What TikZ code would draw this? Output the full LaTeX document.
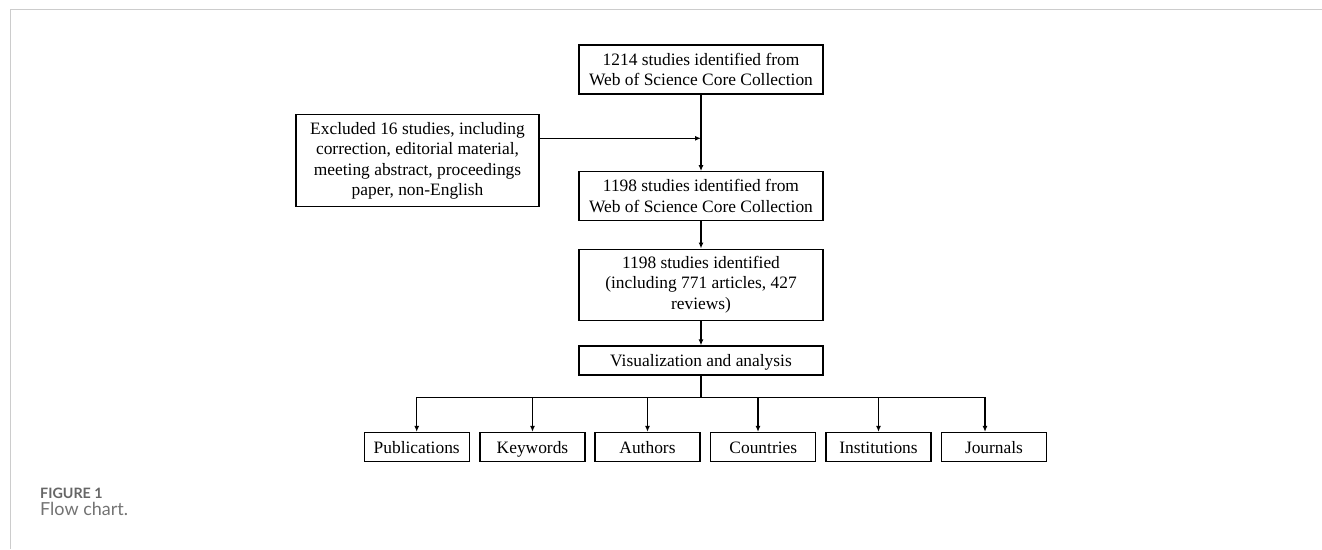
\documentclass[tikz,border=0pt]{standalone}
\usepackage{fontspec}
\setmainfont{Liberation Serif}
\newfontfamily\capfont{Lato}
\usetikzlibrary{arrows.meta,calc}
\definecolor{framegray}{HTML}{CCCCCC}
\definecolor{figgray}{HTML}{666666}
\definecolor{capgray}{HTML}{737373}
\begin{document}
\begin{tikzpicture}[x=1pt,y=-1pt,
  box/.style={draw=black,line width=1.2pt,inner sep=0pt,align=center,
    font=\fontsize{17.4}{20.5}\selectfont},
  mainbox/.style={box,minimum width=244pt},
  oneline/.style={text height=14pt,text depth=2pt},
  smallbox/.style={box,oneline,minimum width=105pt,minimum height=29pt},
  conn/.style={line width=1.2pt},
  arr/.style={conn,-{Latex[length=6pt,width=5pt]}}]
\useasboundingbox (0,0) rectangle (1322,549);
% frame
\draw[framegray,line width=1pt] (1322,9.5) -- (10,9.5) -- (10,549);
% main column
\node[mainbox,minimum height=49pt] (b1) at (701,69.5) {1214 studies identified from\\Web of Science Core Collection};
\node[box,minimum width=243pt,minimum height=92pt] (ex) at (417.5,160.7) {Excluded 16 studies, including\\correction, editorial material,\\meeting abstract, proceedings\\paper, non-English};
\node[mainbox,minimum height=49pt] (b2) at (701,196.2) {1198 studies identified from\\Web of Science Core Collection};
\node[mainbox,minimum height=71pt] (b3) at (701,284.6) {1198 studies identified\\(including 771 articles, 427\\reviews)};
\node[mainbox,oneline,minimum height=29pt] (viz) at (701,360.5) {Visualization and analysis};
% bottom row
\node[smallbox] (pub) at (416.7,447) {Publications};
\node[smallbox] (key) at (532.5,447) {Keywords};
\node[smallbox] (aut) at (647.5,447) {Authors};
\node[smallbox] (cou) at (763.3,447) {Countries};
\node[smallbox] (ins) at (878.5,447) {Institutions};
\node[smallbox] (jou) at (994,447) {Journals};
% connectors
\coordinate (j) at (701,138.3);
\draw[arr] (b1.south) -- (b2.north);
\draw[arr] (ex.east |- j) -- (j);
\draw[arr] (b2.south) -- (b3.north);
\draw[arr] (b3.south) -- (viz.north);
\coordinate (busL) at (416.7,397.3);
\coordinate (busR) at (985,397.3);
\draw[conn] (viz.south) -- (viz.south |- busL);
\draw[conn,line cap=rect] (busL) -- (busR);
\draw[arr] (pub.north |- busL) -- (pub.north);
\draw[arr] (key.north |- busL) -- (key.north);
\draw[arr] (aut.north |- busL) -- (aut.north);
\draw[arr] ([xshift=-5.3pt]cou.north |- busL) -- ([xshift=-5.3pt]cou.north);
\draw[arr] (ins.north |- busL) -- (ins.north);
\draw[arr] ([xshift=-9pt]jou.north |- busL) -- ([xshift=-9pt]jou.north);
% caption
\node[anchor=base west,inner sep=0pt,text=figgray,font=\capfont\bfseries\fontsize{14.3}{16}\selectfont] (fig) at (40,498.7) {FIGURE 1};
\node[anchor=base west,inner sep=0pt,text=capgray,font=\capfont\fontsize{18}{20}\selectfont] (cap) at (40,515) {Flow chart.};
\end{tikzpicture}
\end{document}
